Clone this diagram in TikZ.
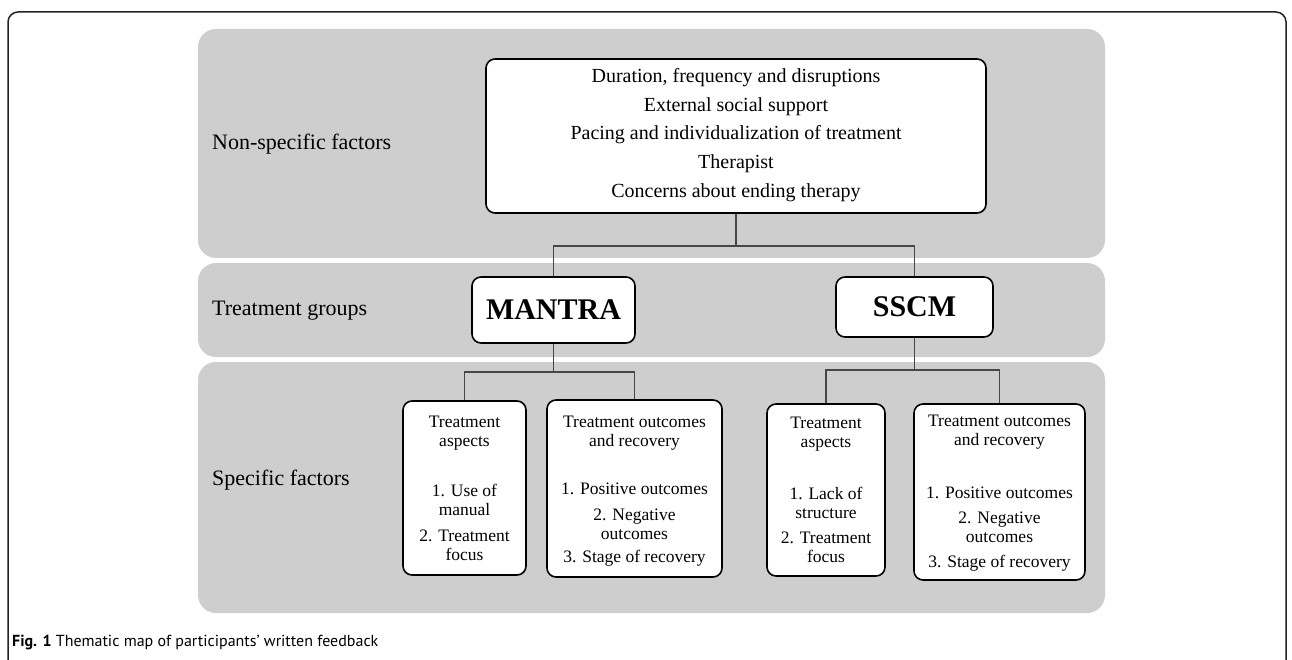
\documentclass[tikz,border=0pt]{standalone}
\usepackage{fontspec}
\setmainfont{Liberation Serif}
\newfontfamily\capfont{PT Sans}
\definecolor{bandgray}{RGB}{206,206,206}
\definecolor{connline}{RGB}{70,70,70}
\definecolor{frameline}{RGB}{35,35,35}
\begin{document}
\begin{tikzpicture}[x=1pt,y=-1pt,
  band/.style={fill=bandgray, draw=none, rounded corners=18pt},
  box/.style={draw=black, line width=1.6pt, fill=white, rounded corners=9pt, inner sep=0pt},
  conn/.style={draw=connline, line width=1.3pt},
  lbl/.style={font=\fontsize{22}{26}\selectfont, anchor=west, inner sep=0pt},
  toptxt/.style={font=\fontsize{20}{28.6}\selectfont, align=center, inner sep=0pt},
  grp/.style={font=\fontsize{22}{26}\bfseries\selectfont, inner sep=0pt},
  ctxt/.style={font=\fontsize{17.5}{19}\selectfont, align=center, inner sep=0pt}
]
\useasboundingbox[fill=white] (0,0) rectangle (1292,660);
% outer frame
\draw[frameline, line width=1.5pt, rounded corners=10pt] (8,672) -- (8,12) -- (1286,12) -- (1286,672);
% bands
\path[band] (198,29) rectangle (1105,258);
\path[band] (198,263) rectangle (1105,357);
\path[band] (198,362) rectangle (1105,613);
% band labels
\node[lbl] (l1) at (212,144) {Non-specific factors};
\node[lbl] (l2) at (212,311) {Treatment groups};
\node[lbl] (l3) at (212,480) {Specific factors};
% boxes
\node[box, minimum width=500pt, minimum height=154pt] (top) at (736,136) {};
\node[box, minimum width=163pt, minimum height=66pt] (mantra) at (553.5,310) {};
\node[box, minimum width=157pt, minimum height=60pt] (sscm) at (914.5,307) {};
\node[box, minimum width=123pt, minimum height=174pt] (ma) at (464.5,488) {};
\node[box, minimum width=175pt, minimum height=177pt] (mo) at (634.5,488.5) {};
\node[box, minimum width=118pt, minimum height=172pt] (sa) at (826,490) {};
\node[box, minimum width=171pt, minimum height=176pt] (so) at (999.5,492) {};
% connectors
\coordinate (j1) at (736,246);
\coordinate (j2) at (553.5,372);
\coordinate (j3) at (914.5,370);
\draw[conn] (top.south) -- (j1);
\draw[conn] (mantra.north) |- (sscm.north |- j1) -- (sscm.north);
\draw[conn] (mantra.south) -- (j2);
\draw[conn] (ma.north) |- (mo.north |- j2) -- (mo.north);
\draw[conn] (sscm.south) -- (j3);
\draw[conn] (sa.north) |- (so.north |- j3) -- (so.north);
% texts
\node[toptxt] (topt) at (736,135) {Duration, frequency and disruptions\\External social support\\Pacing and individualization of treatment\\Therapist\\Concerns about ending therapy};
\node[font=\fontsize{30}{34}\bfseries\selectfont, inner sep=0pt] (mantrat) at (553.5,310) {MANTRA};
\node[font=\fontsize{30}{34}\bfseries\selectfont, inner sep=0pt] (sscmt) at (914.5,307) {SSCM};
% MANTRA children
\node[ctxt] (mah) at (464.5,433) {Treatment\\aspects};
\node[ctxt] (ma1) at (464.5,500) {1. Use of\\manual};
\node[ctxt] (ma2) at (464.5,545.5) {2. Treatment\\focus};
\node[ctxt] (moh) at (634.5,433.5) {Treatment outcomes\\and recovery};
\node[ctxt] (mo1) at (634.5,489) {1. Positive outcomes};
\node[ctxt] (mo2) at (634.5,524) {2. Negative\\outcomes};
\node[ctxt] (mo3) at (634.5,558) {3. Stage of recovery};
% SSCM children
\node[ctxt] (sah) at (826,434) {Treatment\\aspects};
\node[ctxt] (sa1) at (826,503) {1. Lack of\\structure};
\node[ctxt] (sa2) at (826,547.5) {2. Treatment\\focus};
\node[ctxt] (soh) at (999.5,432.5) {Treatment outcomes\\and recovery};
\node[ctxt] (so1) at (999.5,493) {1. Positive outcomes};
\node[ctxt] (so2) at (999.5,527.5) {2. Negative\\outcomes};
\node[ctxt] (so3) at (999.5,563) {3. Stage of recovery};
% caption
\node[anchor=west, inner sep=0pt, font=\capfont\fontsize{16}{19}\selectfont] (cap) at (12,642) {\textbf{Fig. 1} Thematic map of participants’ written feedback};
\end{tikzpicture}
\end{document}
